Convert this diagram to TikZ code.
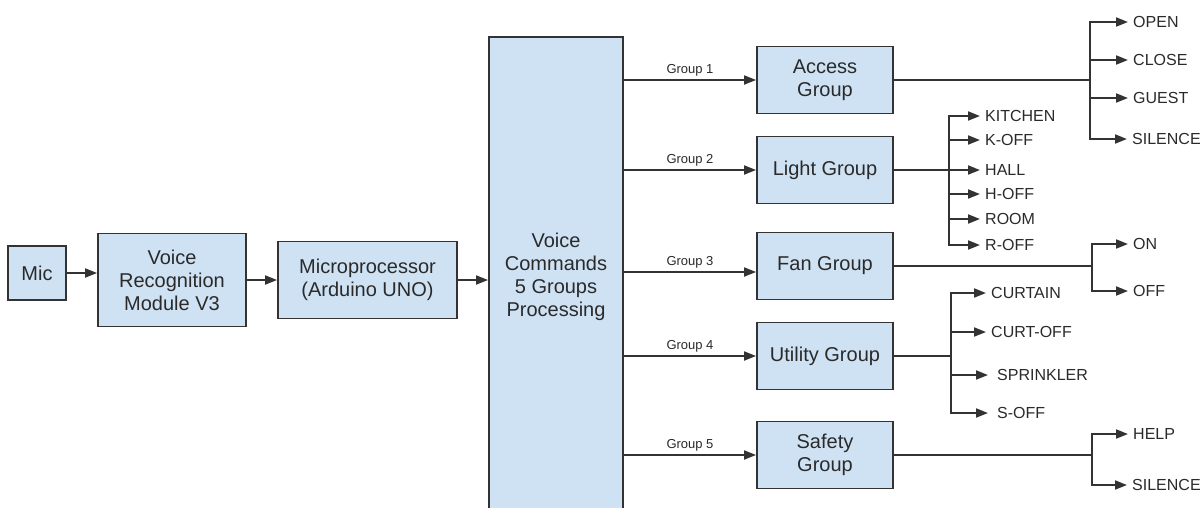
\documentclass[tikz,border=0pt]{standalone}
\usepackage{fontspec}
\setmainfont{Liberation Sans}
\usepackage{xcolor}
\usetikzlibrary{arrows.meta}
\definecolor{boxfill}{HTML}{CFE2F3}
\definecolor{boxline}{HTML}{333333}
\definecolor{inktext}{HTML}{2A2A2A}

\begin{document}
\begin{tikzpicture}[
    x=1pt, y=-1pt,
    %% ── Node styles ─────────────────────────────────────────────
    blk/.style ={draw=boxline, line width=1.9pt, fill=boxfill, align=center,
                 text=inktext, font=\fontsize{20}{23}\selectfont, inner sep=2pt},
    grp/.style ={blk, minimum width=136pt, minimum height=67pt},
    arr/.style ={-{Triangle[length=12pt,width=9pt]}, line width=1.9pt, color=boxline},
    wire/.style={line width=1.9pt, color=boxline},
    glbl/.style={font=\fontsize{13}{15}\selectfont, text=inktext, inner sep=2pt},
    outl/.style={anchor=west, font=\fontsize{16}{18}\selectfont, text=inktext,
                 inner xsep=5pt, inner ysep=0pt}
]

    \fill[white] (0,0) rectangle (1203,507);
    \useasboundingbox (0,0) rectangle (1203,507);

    %% ── Input chain ─────────────────────────────────────────────
    \node[blk, minimum width=58pt,  minimum height=54pt]  (mic)  at (37,273)    {Mic};
    \node[blk, minimum width=148pt, minimum height=93pt]  (vrm)  at (172,280)   {Voice\\Recognition\\Module V3};
    \node[blk, minimum width=179pt, minimum height=77pt]  (mcu)  at (367.5,280) {Microprocessor\\(Arduino UNO)};
    \node[blk, minimum width=134pt, minimum height=480pt] (proc) at (556,277)   {Voice\\Commands\\5 Groups\\Processing};

    %% ── Groups ──────────────────────────────────────────────────
    \node[grp] (access)  at (825,80)  {Access\\Group};
    \node[grp] (light)   at (825,170) {Light Group};
    \node[grp] (fan)     at (825,266) {Fan Group};
    \node[grp] (utility) at (825,356) {Utility Group};
    \node[grp] (safety)  at (825,455) {Safety\\Group};

    %% ── Commands ────────────────────────────────────────────────
    \coordinate (accJ) at (1090,80);
    \node[outl] (open)    at (1128,22)  {OPEN};
    \node[outl] (close)   at (1128,60)  {CLOSE};
    \node[outl] (guest)   at (1128,98)  {GUEST};
    \node[outl] (silA)    at (1127,139) {SILENCE};

    \coordinate (litJ) at (949,170);
    \node[outl] (kitchen) at (980,116) {KITCHEN};
    \node[outl] (koff)    at (980,140) {K-OFF};
    \node[outl] (hall)    at (980,170) {HALL};
    \node[outl] (hoff)    at (980,194) {H-OFF};
    \node[outl] (room)    at (980,219) {ROOM};
    \node[outl] (roff)    at (980,245) {R-OFF};

    \coordinate (fanJ) at (1092,266);
    \node[outl] (on)      at (1128,244) {ON};
    \node[outl] (off)     at (1128,291) {OFF};

    \coordinate (utlJ) at (951,356);
    \node[outl] (curtain) at (986,293)  {CURTAIN};
    \node[outl] (curtoff) at (986,332)  {CURT-OFF};
    \node[outl] (sprink)  at (992,375)  {SPRINKLER};
    \node[outl] (soff)    at (992,413)  {S-OFF};

    \coordinate (safJ) at (1092,455);
    \node[outl] (help)    at (1128,434) {HELP};
    \node[outl] (silS)    at (1127,485) {SILENCE};

    %% ── Arrows ──────────────────────────────────────────────────
    \draw[arr] (mic.east) -- (mic.east -| vrm.west);
    \draw[arr] (vrm.east) -- (vrm.east -| mcu.west);
    \draw[arr] (mcu.east) -- (mcu.east -| proc.west);

    \draw[arr] (proc.east |- access.west) -- node[glbl, above=1pt] {Group 1} (access.west);
    \draw[arr] (proc.east |- light.west)  -- node[glbl, above=1pt] {Group 2} (light.west);
    \draw[arr] ([yshift=-6pt]fan.west -| proc.east) -- node[glbl, above=1pt] {Group 3} ([yshift=-6pt]fan.west);
    \draw[arr] (proc.east |- utility.west) -- node[glbl, above=1pt] {Group 4} (utility.west);
    \draw[arr] (proc.east |- safety.west)  -- node[glbl, above=1pt] {Group 5} (safety.west);

    \draw[wire] (access.east) -- (accJ);
    \draw[arr] (accJ) |- (open);
    \draw[arr] (accJ) |- (close);
    \draw[arr] (accJ) |- (guest);
    \draw[arr] (accJ) |- (silA);

    \draw[wire] (light.east) -- (litJ);
    \draw[arr] (litJ) |- (kitchen);
    \draw[arr] (litJ) |- (koff);
    \draw[arr] (litJ) |- (hall);
    \draw[arr] (litJ) |- (hoff);
    \draw[arr] (litJ) |- (room);
    \draw[arr] (litJ) |- (roff);

    \draw[wire] (fan.east) -- (fanJ);
    \draw[arr] (fanJ) |- (on);
    \draw[arr] (fanJ) |- (off);

    \draw[wire] (utility.east) -- (utlJ);
    \draw[arr] (utlJ) |- (curtain);
    \draw[arr] (utlJ) |- (curtoff);
    \draw[arr] (utlJ) |- ([xshift=-4pt]sprink.west);
    \draw[arr] (utlJ) |- ([xshift=-4pt]soff.west);

    \draw[wire] (safety.east) -- (safJ);
    \draw[arr] (safJ) |- (help);
    \draw[arr] (safJ) |- (silS);

\end{tikzpicture}
\end{document}
